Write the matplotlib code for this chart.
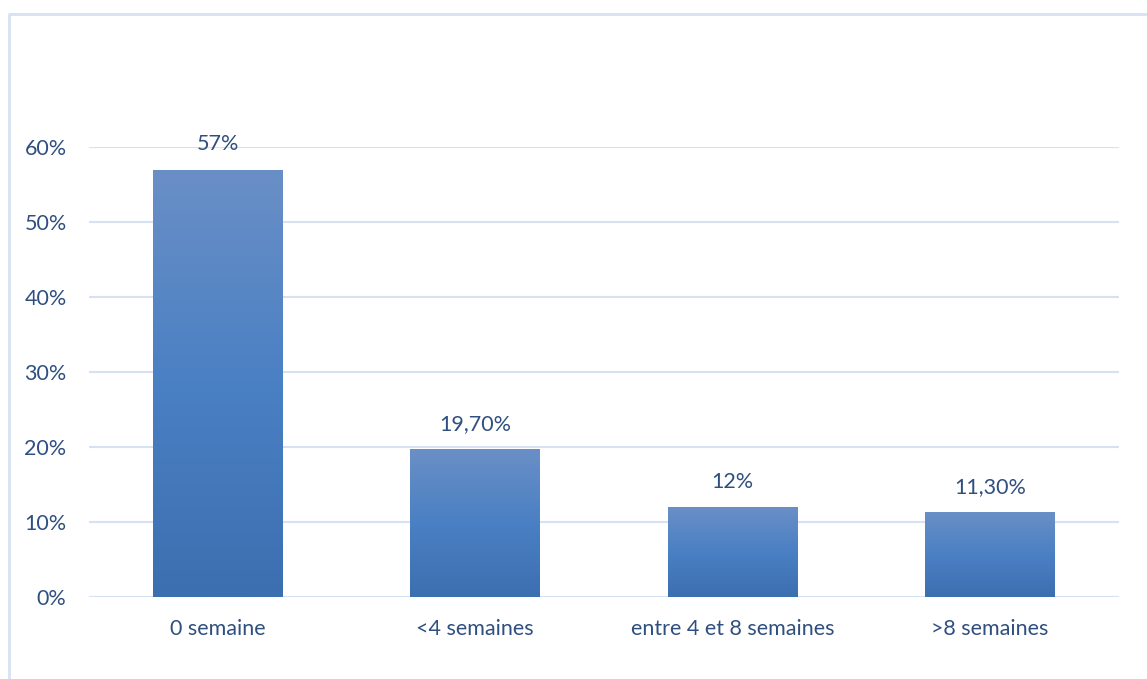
import numpy as np
import matplotlib.pyplot as plt
from matplotlib.colors import LinearSegmentedColormap
from matplotlib.lines import Line2D

# données du graphique
categories = ['0 semaine', '<4 semaines', 'entre 4 et 8 semaines', '>8 semaines']
valeurs = [0.57, 0.197, 0.12, 0.113]
etiquettes = ['57%', '19,70%', '12%', '11,30%']
yticks = [0, 0.1, 0.2, 0.3, 0.4, 0.5, 0.6]
yticklabels = ['0%', '10%', '20%', '30%', '40%', '50%', '60%']

texte = '#2f4f80'
grille = '#d6e1f1'
plt.rcParams['font.family'] = ['Lato', 'DejaVu Sans']
taille = 15.5

fig = plt.figure(figsize=(11.47, 6.79), dpi=100)
ax = fig.add_axes([0.0774, 0.1208, 0.898, 0.6627])

# cadre du graphique (bord gauche et haut)
fig.add_artist(Line2D([0.0078, 0.0078, 1.0], [0.0, 0.9794, 0.9794],
                      transform=fig.transFigure, color=grille, lw=2))

# dégradé vertical pour chaque barre
degrade = LinearSegmentedColormap.from_list('barre', ['#3c6fb0', '#4a80c4', '#6a8fc6'])
grad = np.linspace(0, 1, 256).reshape(-1, 1)
x = np.arange(len(categories))
largeur = 0.503

barres = ax.bar(x, valeurs, width=largeur, color='none', zorder=3)
for b in barres:
    x0, y0 = b.get_x(), b.get_y()
    im = ax.imshow(grad, cmap=degrade, origin='lower', aspect='auto',
                   extent=[x0, x0 + b.get_width(), y0, y0 + b.get_height()], zorder=3)
    im.set_clip_path(b)

for xi, v, lab in zip(x, valeurs, etiquettes):
    ax.annotate(lab, (xi, v), xytext=(0, 11), textcoords='offset points',
                ha='center', va='bottom', fontsize=taille, color=texte, annotation_clip=False)

ax.set_xlim(-0.5, len(categories) - 0.5)
ax.set_ylim(0, 0.6)
ax.set_xticks(x)
ax.set_xticklabels(categories, fontsize=taille, color=texte)
ax.set_yticks(yticks)
ax.set_yticklabels(yticklabels, fontsize=taille, color=texte)
ax.tick_params(axis='both', length=0)
ax.tick_params(axis='x', pad=16)
ax.tick_params(axis='y', pad=16)

ax.grid(axis='y', color=grille, lw=1.5, zorder=0)
ax.set_axisbelow(True)
for s in ax.spines.values():
    s.set_visible(False)

fig.savefig('out.png', dpi=100)
